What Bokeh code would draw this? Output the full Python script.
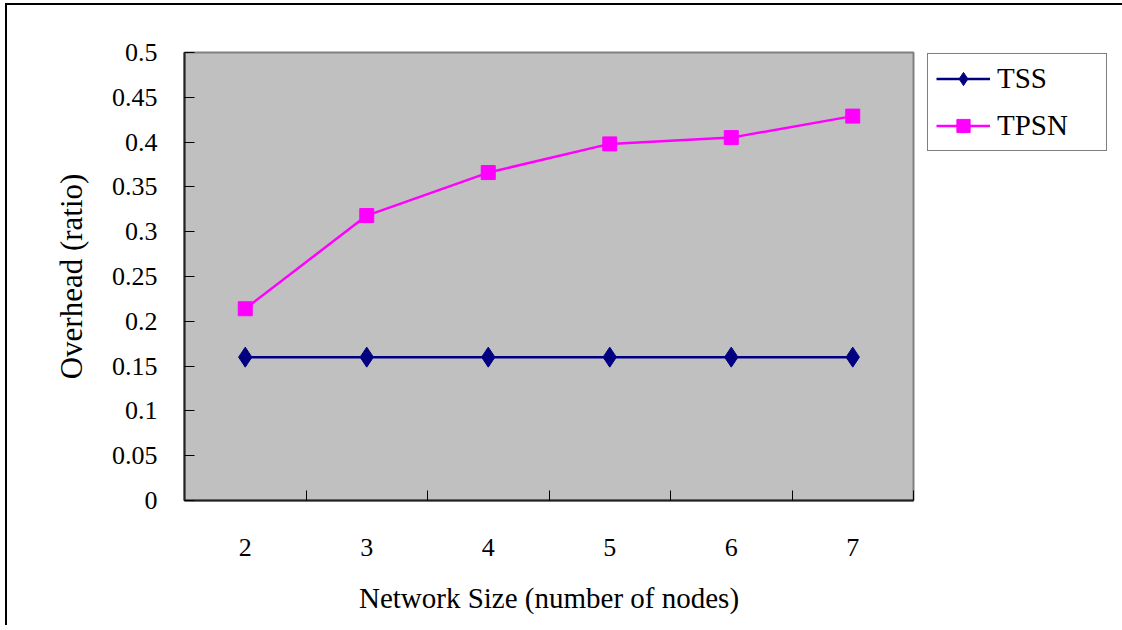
from bokeh.plotting import figure
from bokeh.models import FixedTicker, CustomJSTickFormatter, Legend, LegendItem, Range1d
from bokeh.embed import file_html
from bokeh.resources import INLINE

network_sizes = [2, 3, 4, 5, 6, 7]
tss_overhead = [0.16, 0.16, 0.16, 0.16, 0.16, 0.16]
tpsn_overhead = [0.214, 0.318, 0.366, 0.398, 0.405, 0.429]
y_ticks = [0, 0.05, 0.1, 0.15, 0.2, 0.25, 0.3, 0.35, 0.4, 0.45, 0.5]
x_boundaries = [1.5, 2.5, 3.5, 4.5, 5.5, 6.5, 7.5]

FONT = "Liberation Serif"

p = figure(frame_width=729, frame_height=448,
           min_border_left=177, min_border_top=47, min_border_right=209, min_border_bottom=125,
           x_range=Range1d(1.5, 7.5), y_range=Range1d(0, 0.5),
           output_backend="svg", toolbar_location=None, tools="")
p.styles = {"border-left": "2px solid black", "border-top": "2px solid black",
            "margin-left": "5px", "margin-top": "3px"}

p.background_fill_color = "#C0C0C0"
p.border_fill_color = "white"
p.outline_line_color = "#808080"
p.outline_line_width = 2
p.xgrid.visible = False
p.ygrid.visible = False

# y axis
p.yaxis.ticker = FixedTicker(ticks=y_ticks, minor_ticks=[])
p.yaxis.formatter = CustomJSTickFormatter(code="return parseFloat(tick.toFixed(2)).toString();")
p.yaxis.axis_line_color = "#222222"
p.yaxis.axis_line_width = 2
p.yaxis.major_tick_in = 10
p.yaxis.major_tick_out = 0
p.yaxis.major_tick_line_color = "black"
p.yaxis.minor_tick_line_color = None
p.yaxis.major_label_text_font = FONT
p.yaxis.major_label_text_font_size = "26px"
p.yaxis.major_label_text_color = "black"
p.yaxis.major_label_standoff = 27
p.yaxis.axis_label = "Overhead (ratio)"
p.yaxis.axis_label_text_font = FONT
p.yaxis.axis_label_text_font_size = "31px"
p.yaxis.axis_label_text_font_style = "normal"
p.yaxis.axis_label_text_color = "black"
p.yaxis.axis_label_standoff = 20

# x axis
p.xaxis.ticker = FixedTicker(ticks=network_sizes, minor_ticks=x_boundaries)
p.xaxis.axis_line_color = "#222222"
p.xaxis.axis_line_width = 2
p.xaxis.major_tick_in = 0
p.xaxis.major_tick_out = 0
p.xaxis.minor_tick_in = 10
p.xaxis.minor_tick_out = 0
p.xaxis.minor_tick_line_color = "black"
p.xaxis.major_label_text_font = FONT
p.xaxis.major_label_text_font_size = "26px"
p.xaxis.major_label_text_color = "black"
p.xaxis.major_label_standoff = 38
p.xaxis.axis_label = "Network Size (number of nodes)"
p.xaxis.axis_label_text_font = FONT
p.xaxis.axis_label_text_font_size = "29px"
p.xaxis.axis_label_text_font_style = "normal"
p.xaxis.axis_label_text_color = "black"
p.xaxis.axis_label_standoff = 23

NAVY = "#000080"
MAG = "#FF00FF"

l1 = p.line(network_sizes, tss_overhead, line_color=NAVY, line_width=2.5)
m1 = p.scatter(network_sizes, tss_overhead, marker="diamond", size=20,
               fill_color=NAVY, line_color=NAVY)
l2 = p.line(network_sizes, tpsn_overhead, line_color=MAG, line_width=2.5)
m2 = p.scatter(network_sizes, tpsn_overhead, marker="square", size=14,
               fill_color=MAG, line_color=MAG)

legend = Legend(items=[LegendItem(label="TSS", renderers=[l1, m1]),
                       LegendItem(label="TPSN", renderers=[l2, m2])],
                location=(14, 349))
legend.label_text_font = FONT
legend.label_text_font_size = "29px"
legend.label_text_font_style = "normal"
legend.label_text_color = "black"
legend.border_line_color = "black"
legend.border_line_width = 1
legend.background_fill_color = "white"
legend.background_fill_alpha = 1
legend.padding = 8
legend.spacing = 14
legend.glyph_width = 54
legend.glyph_height = 33
legend.label_height = 33
legend.label_width = 101
legend.label_standoff = 7
legend.margin = 0
p.add_layout(legend, "right")

open("out.html", "w").write(file_html(p, INLINE))
